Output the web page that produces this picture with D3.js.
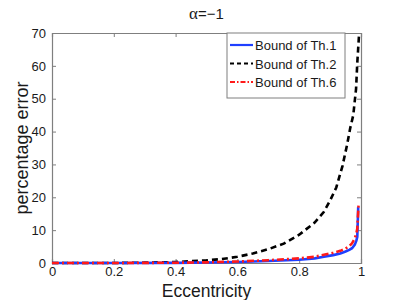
<!DOCTYPE html>
<html>
<head>
<meta charset="utf-8">
<script src="https://cdn.jsdelivr.net/npm/d3@7"></script>
<style>
  body { margin: 0; background: #fff; }
  text { font-family: "Liberation Sans", Arial, sans-serif; }
</style>
</head>
<body>
<div id="chart"></div>
<script>
// dados
const ecc1 = [0, 0.2, 0.4, 0.5, 0.6, 0.7, 0.8, 0.85, 0.88, 0.91, 0.933, 0.95, 0.962, 0.971, 0.98, 0.985, 0.988, 0.991];
const th1 = [0, 0, 0.05, 0.15, 0.3, 0.6, 1.0, 1.4, 1.9, 2.4, 2.9, 3.5, 4.0, 4.5, 5.6, 6.8, 8.0, 17];

const ecc2 = [0, 0.1, 0.2, 0.3, 0.4, 0.5, 0.55, 0.6, 0.65, 0.7, 0.75, 0.8, 0.85, 0.88, 0.9, 0.92, 0.94, 0.955, 0.965, 0.975, 0.984, 0.988, 0.994];
const th2 = [0, 0, 0.01, 0.1, 0.3, 0.8, 1.2, 1.9, 2.9, 4.2, 5.9, 8.6, 12.3, 15.6, 19, 23, 29.5, 36, 41, 45, 53, 61, 70];

const ecc6 = [0, 0.2, 0.4, 0.5, 0.6, 0.7, 0.8, 0.85, 0.88, 0.91, 0.933, 0.95, 0.962, 0.971, 0.98, 0.985, 0.988, 0.992];
const th6 = [0, 0, 0.08, 0.2, 0.45, 0.85, 1.4, 1.9, 2.5, 3.1, 3.7, 4.4, 5.1, 6.0, 7.5, 9.0, 10.5, 17.5];

const xTicks = [0, 0.2, 0.4, 0.6, 0.8, 1];
const yTicks = [0, 10, 20, 30, 40, 50, 60, 70];
const nomes = ['Bound of Th.1', 'Bound of Th.2', 'Bound of Th.6'];

// Configurações do gráfico
let margin = { top: 33, right: 38, bottom: 37, left: 52 };
let width = 399 - margin.left - margin.right;
let height = 300 - margin.top - margin.bottom;

let svg = d3.select('#chart').append('svg')
    .attr('width', 399)
    .attr('height', 300);

let g = svg.append('g')
    .attr('transform', `translate(${margin.left}, ${margin.top})`);

let x = d3.scaleLinear().domain([0, 1]).range([0, width]);
let y = d3.scaleLinear().domain([0, 70]).range([height, 0]);

// Eixos (estilo matlab, ticks para dentro)
const cinza = '#7f7f7f';
let eixoX = g.append('g').attr('transform', `translate(0, ${height})`)
    .call(d3.axisBottom(x).tickValues(xTicks).tickSize(-4).tickPadding(4).tickFormat(d3.format('')));
let eixoXt = g.append('g')
    .call(d3.axisTop(x).tickValues(xTicks).tickSize(-4).tickFormat(''));
let eixoY = g.append('g')
    .call(d3.axisLeft(y).tickValues(yTicks).tickSize(-4).tickPadding(6));
let eixoYr = g.append('g').attr('transform', `translate(${width}, 0)`)
    .call(d3.axisRight(y).tickValues(yTicks).tickSize(-4).tickFormat(''));

[eixoX, eixoXt, eixoY, eixoYr].forEach(a => {
    a.select('.domain').attr('stroke', cinza).attr('stroke-width', 1.2);
    a.selectAll('.tick line').attr('stroke', cinza);
    a.selectAll('.tick text').attr('fill', '#1a1a1a').style('font-size', '13px');
});

// Linhas
let linha = (xs) => d3.line()
    .x((d, i) => x(xs[i]))
    .y(d => y(d));

g.append('path').datum(th2)
    .attr('d', linha(ecc2))
    .attr('fill', 'none')
    .attr('stroke', '#000')
    .attr('stroke-width', 2.6)
    .attr('stroke-dasharray', '6,4');

g.append('path').datum(th1)
    .attr('d', linha(ecc1))
    .attr('fill', 'none')
    .attr('stroke', '#1f3fff')
    .attr('stroke-width', 2.6);

g.append('path').datum(th6)
    .attr('d', linha(ecc6))
    .attr('fill', 'none')
    .attr('stroke', '#ff1a1a')
    .attr('stroke-width', 2.6)
    .attr('stroke-dasharray', '7,3,2,3');

// Legenda
let leg = svg.append('g').attr('transform', 'translate(227, 33)');
leg.append('rect')
    .attr('width', 118).attr('height', 65)
    .attr('fill', '#fff').attr('stroke', cinza).attr('stroke-width', 1);

const estilos = [
    { cor: '#1f3fff', dash: null },
    { cor: '#000', dash: '4,3' },
    { cor: '#ff1a1a', dash: '5,2,1.5,2' }
];
nomes.forEach((nome, n) => {
    let yy = 12 + n * 18.5;
    leg.append('line')
        .attr('x1', 3).attr('x2', 26).attr('y1', yy).attr('y2', yy)
        .attr('stroke', estilos[n].cor)
        .attr('stroke-width', 2.2)
        .attr('stroke-dasharray', estilos[n].dash);
    leg.append('text')
        .attr('x', 28).attr('y', yy + 5)
        .style('font-size', '13px')
        .attr('fill', '#1a1a1a')
        .text(nome);
});

// Títulos
svg.append('text')
    .attr('x', margin.left + width / 2).attr('y', 19)
    .attr('text-anchor', 'middle')
    .style('font-size', '15px')
    .attr('fill', '#1a1a1a')
    .html('<tspan style="font-family: \'Liberation Serif\', serif; font-size: 17px">α</tspan>=−1');

svg.append('text')
    .attr('x', margin.left + width / 2).attr('y', 297)
    .attr('text-anchor', 'middle')
    .style('font-size', '17.5px')
    .attr('fill', '#1a1a1a')
    .text('Eccentricity');

svg.append('text')
    .attr('transform', 'rotate(-90)')
    .attr('x', -(margin.top + height / 2)).attr('y', 28)
    .attr('text-anchor', 'middle')
    .style('font-size', '18px')
    .attr('fill', '#1a1a1a')
    .text('percentage error');
</script>
</body>
</html>
